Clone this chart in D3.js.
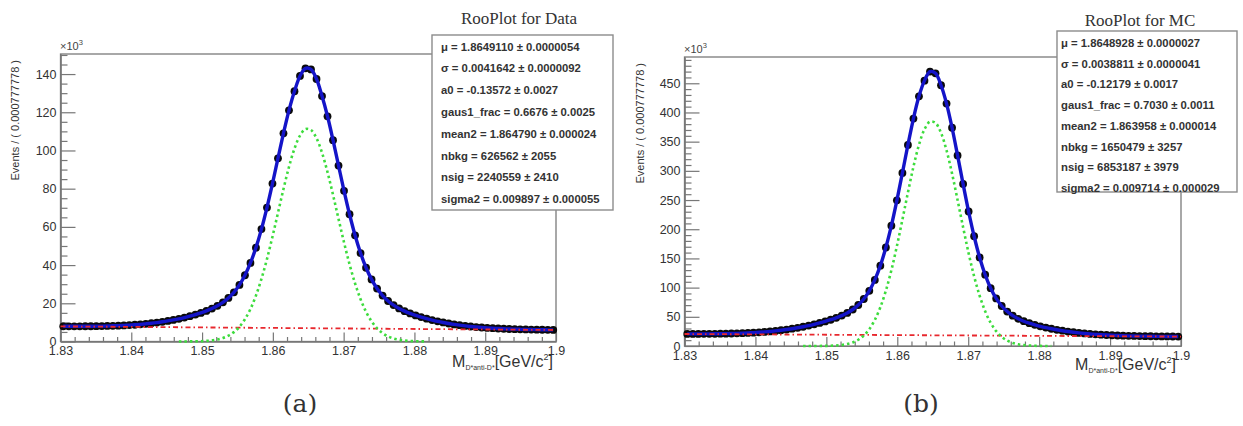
<!DOCTYPE html>
<html>
<head>
<meta charset="utf-8">
<script src="https://cdn.jsdelivr.net/npm/d3@7"></script>
<style>
    body { margin: 0; background: #fff; }
    svg { display: block; font-family: "Liberation Sans", Arial, sans-serif; }
</style>
</head>
<body>
<svg id="chart" width="1243" height="426"></svg>
<script>
// histogram binning: 90 bins of 0.000777778 GeV between 1.83 and 1.9
var massMin = 1.83, massMax = 1.9, binWidth = 0.000777778;

var xTicks = [1.83, 1.84, 1.85, 1.86, 1.87, 1.88, 1.89, 1.9];
var xTickLabels = ["1.83", "1.84", "1.85", "1.86", "1.87", "1.88", "1.89", "1.9"];
var yTicksData = [0, 20, 40, 60, 80, 100, 120, 140];
var yTicksMC = [0, 50, 100, 150, 200, 250, 300, 350, 400, 450];

// events per bin, x10^3 (data sample)
var eventsData = [
    7.95, 7.95, 7.95, 7.96, 7.97, 7.99, 8.03, 8.07, 8.13, 8.21,
    8.31, 8.44, 8.59, 8.77, 8.99, 9.25, 9.55, 9.90, 10.31, 10.77,
    11.29, 11.87, 12.53, 13.26, 14.07, 14.98, 16.02, 17.24, 18.70, 20.50,
    22.79, 25.74, 29.63, 34.68, 41.11, 49.14, 58.84, 70.13, 82.65, 95.87,
    108.98, 121.0, 131.0, 139.0, 143.0, 142.4, 137.4, 128.5, 117.9, 105.4,
    92.1, 78.9, 66.6, 55.6, 46.3, 38.6, 32.5, 27.7, 24.05, 21.2,
    19.05, 17.3, 15.9, 14.7, 13.67, 12.76, 11.94, 11.21, 10.55, 9.96,
    9.43, 8.96, 8.54, 8.17, 7.85, 7.57, 7.33, 7.13, 6.95, 6.80,
    6.67, 6.55, 6.46, 6.38, 6.31, 6.25, 6.20, 6.15, 6.11, 6.08
];
// narrow gaussian component (green), x10^3
var signalData = [
    0, 0, 0, 0, 0, 0, 0, 0, 0, 0,
    0, 0, 0, 0, 0, 0, 0, 0, 0, 0,
    0.00, 0.01, 0.02, 0.04, 0.08, 0.16, 0.31, 0.57, 1.03, 1.80,
    3.03, 4.91, 7.69, 11.66, 17.03, 24.03, 32.76, 43.14, 54.84, 67.33,
    79.82, 91.36, 101.0, 107.8, 111.2, 110.7, 106.4, 98.84, 88.64, 76.76,
    64.19, 51.85, 40.44, 30.45, 22.16, 15.56, 10.56, 6.91, 4.37, 2.67,
    1.58, 0.90, 0.50, 0.26, 0.14, 0.07, 0.03, 0, 0, 0,
    0, 0, 0, 0, 0, 0, 0, 0, 0, 0,
    0, 0, 0, 0, 0, 0, 0, 0, 0, 0
];
// background at 1.83 and at 1.9, x10^3
var bkgData = [7.91, 6.02];

// events per bin, x10^3 (MC sample)
var eventsMC = [
    20.72, 20.72, 20.73, 20.77, 20.83, 20.91, 21.03, 21.19, 21.39, 21.65,
    21.97, 22.36, 22.85, 23.43, 24.11, 24.92, 25.87, 26.96, 28.21, 29.62,
    31.21, 32.98, 34.95, 37.12, 39.50, 42.11, 45.00, 48.27, 52.07, 56.68,
    62.51, 70.19, 80.50, 94.46, 113.2, 137.6, 168.7, 206.1, 249.5, 296.5,
    344.4, 389.6, 427.6, 454.5, 470.0, 467.0, 446.6, 415.2, 373.8, 326.5,
    277.5, 230.4, 188.0, 151.7, 122.1, 99.0, 81.5, 68.5, 58.97, 51.92,
    46.61, 42.45, 39.06, 36.19, 33.70, 31.49, 29.52, 27.75, 26.17, 24.77,
    23.54, 22.45, 21.50, 20.67, 19.96, 19.35, 18.83, 18.38, 18.01, 17.69,
    17.42, 17.18, 16.99, 16.83, 16.69, 16.57, 16.46, 16.37, 16.28, 16.21
];
var signalMC = [
    0, 0, 0, 0, 0, 0, 0, 0, 0, 0,
    0, 0, 0, 0, 0, 0, 0, 0, 0, 0,
    0.00, 0.01, 0.02, 0.04, 0.09, 0.21, 0.44, 0.91, 1.78, 3.38,
    6.13, 10.70, 17.92, 28.85, 44.65, 66.29, 94.72, 129.8, 171.1, 216.4,
    262.9, 307.0, 344.4, 371.1, 384.2, 382.0, 365.0, 335.0, 295.3, 250.1,
    203.5, 159.0, 119.4, 86.09, 59.63, 39.68, 25.38, 15.59, 9.20, 5.21,
    2.84, 1.48, 0.75, 0.36, 0.17, 0.07, 0.03, 0, 0, 0,
    0, 0, 0, 0, 0, 0, 0, 0, 0, 0,
    0, 0, 0, 0, 0, 0, 0, 0, 0, 0
];
var bkgMC = [20.57, 16.11];

var statsData = [
    "μ = 1.8649110 ± 0.0000054",
    "σ = 0.0041642 ± 0.0000092",
    "a0 = -0.13572 ± 0.0027",
    "gaus1_frac = 0.6676 ± 0.0025",
    "mean2 = 1.864790 ± 0.000024",
    "nbkg = 626562 ± 2055",
    "nsig = 2240559 ± 2410",
    "sigma2 = 0.009897 ± 0.000055"
];
var statsMC = [
    "μ = 1.8648928 ± 0.0000027",
    "σ = 0.0038811 ± 0.0000041",
    "a0 = -0.12179 ± 0.0017",
    "gaus1_frac = 0.7030 ± 0.0011",
    "mean2 = 1.863958 ± 0.000014",
    "nbkg = 1650479 ± 3257",
    "nsig = 6853187 ± 3979",
    "sigma2 = 0.009714 ± 0.000029"
];

// layout of the two pads
var panels = [
    {
        title: "RooPlot for Data", caption: "(a)",
        events: eventsData, signal: signalData, bkg: bkgData, stats: statsData,
        yTicks: yTicksData, yMax: 150.5, yMinor: 5,
        frame: { left: 60.5, right: 556, top: 54, bottom: 341.5 },
        box: { x: 432, y: 35, w: 181, h: 175, textX: 441, row0: 46.5, rowStep: 21.8 },
        titlePos: [519, 24], expPos: [60, 50], yTitlePos: [19, 60], xTitlePos: [553, 367], captionPos: [300, 412]
    },
    {
        title: "RooPlot for MC", caption: "(b)",
        events: eventsMC, signal: signalMC, bkg: bkgMC, stats: statsMC,
        yTicks: yTicksMC, yMax: 495, yMinor: 10,
        frame: { left: 684.5, right: 1181, top: 57, bottom: 346 },
        box: { x: 1057, y: 31, w: 180, h: 161, textX: 1061, row0: 43, rowStep: 20.7 },
        titlePos: [1140, 26], expPos: [684, 53], yTitlePos: [644, 63], xTitlePos: [1176, 370], captionPos: [921, 412]
    }
];

var chart = {
    draw: function(svg, p) {
        var f = p.frame;
        var x = d3.scaleLinear().domain([massMin, massMax]).range([f.left, f.right]);
        var y = d3.scaleLinear().domain([0, p.yMax]).range([f.bottom, f.top]);
        var centers = p.events.map((e, i) => massMin + (i + 0.5) * binWidth);
        var g = svg.append("g");

        //frame
        g.append("rect")
            .attr("x", f.left).attr("y", f.top)
            .attr("width", f.right - f.left).attr("height", f.bottom - f.top)
            .attr("fill", "none").attr("stroke", "#7a7a7a").attr("stroke-width", 1.3);

        //minor ticks first, majors on top
        var xMinor = d3.range(0, 36).filter(i => i % 5 != 0).map(i => massMin + i * 0.002);
        g.append("g").attr("class", "axis")
            .attr("transform", `translate(0, ${f.bottom})`)
            .call(d3.axisBottom(x).tickValues(xMinor).tickSizeInner(-4.5).tickSizeOuter(0).tickFormat(""));
        g.append("g").attr("class", "axis")
            .attr("transform", `translate(0, ${f.bottom})`)
            .call(d3.axisBottom(x).tickValues(xTicks).tickSizeInner(-9).tickSizeOuter(0).tickPadding(5)
                .tickFormat((d, i) => xTickLabels[i]));

        var yMinor = d3.range(0, p.yMax, p.yMinor).filter(v => p.yTicks.indexOf(v) < 0);
        g.append("g").attr("class", "axis")
            .attr("transform", `translate(${f.left}, 0)`)
            .call(d3.axisLeft(y).tickValues(yMinor).tickSizeInner(-7).tickSizeOuter(0).tickFormat(""));
        g.append("g").attr("class", "axis")
            .attr("transform", `translate(${f.left}, 0)`)
            .call(d3.axisLeft(y).tickValues(p.yTicks).tickSizeInner(-15).tickSizeOuter(0).tickPadding(4));

        g.selectAll(".axis path, .axis line").attr("stroke", "#777").attr("stroke-width", 1.2);
        g.selectAll(".axis text").attr("fill", "#333").attr("font-size", "12.5px")
            .attr("font-family", "'Liberation Sans', Arial, sans-serif");

        //data points
        g.append("g").selectAll("circle")
            .data(p.events)
            .enter()
            .append("circle")
            .attr("cx", (d, i) => x(centers[i]))
            .attr("cy", d => y(d))
            .attr("r", 3.9)
            .attr("fill", "#0a0a0a");

        //total fit
        var line = d3.line().curve(d3.curveCatmullRom);
        g.append("path")
            .attr("d", line(p.events.map((d, i) => [x(centers[i]), y(d)])))
            .attr("fill", "none").attr("stroke", "#1414c8").attr("stroke-width", 3.4);

        //background component
        g.append("path")
            .attr("d", d3.line()([[x(massMin), y(p.bkg[0])], [x(massMax), y(p.bkg[1])]]))
            .attr("fill", "none").attr("stroke", "#e8282e").attr("stroke-width", 1.8)
            .attr("stroke-dasharray", "5,3,1.5,3");

        //narrow gaussian component, only where it rises off the axis
        var sigLine = d3.line().curve(d3.curveCatmullRom).defined(d => d[2] > 0);
        g.append("path")
            .attr("d", sigLine(p.signal.map((d, i) => [x(centers[i]), y(d), d])))
            .attr("fill", "none").attr("stroke", "#3cdc3c").attr("stroke-width", 2.6)
            .attr("stroke-dasharray", "2.5,3");

        //x10^3 exponent
        var exp = g.append("text")
            .attr("x", p.expPos[0]).attr("y", p.expPos[1])
            .attr("font-size", "11px").attr("fill", "#444");
        exp.append("tspan").text("×10");
        exp.append("tspan").attr("dy", -5).attr("font-size", "7.5px").text("3");

        //axis titles
        g.append("text")
            .attr("transform", `translate(${p.yTitlePos[0]}, ${p.yTitlePos[1]}) rotate(-90)`)
            .attr("text-anchor", "end")
            .attr("font-size", "11px").attr("fill", "#333")
            .text("Events / ( 0.000777778 )");

        var xt = g.append("text")
            .attr("x", p.xTitlePos[0]).attr("y", p.xTitlePos[1])
            .attr("text-anchor", "end")
            .attr("font-size", "16px").attr("fill", "#333");
        xt.append("tspan").text("M");
        xt.append("tspan").attr("dy", 3).attr("font-size", "7px").text("D*anti-D*");
        xt.append("tspan").attr("dy", -3).text("[GeV/c");
        xt.append("tspan").attr("dy", -7).attr("font-size", "9px").text("2");
        xt.append("tspan").attr("dy", 7).text("]");

        //stats box
        var b = p.box;
        g.append("rect")
            .attr("x", b.x).attr("y", b.y).attr("width", b.w).attr("height", b.h)
            .attr("fill", "#fff").attr("stroke", "#8c8c8c").attr("stroke-width", 1.4);
        g.append("g").selectAll("text")
            .data(p.stats)
            .enter()
            .append("text")
            .attr("x", b.textX)
            .attr("y", (d, i) => b.row0 + i * b.rowStep + 4)
            .attr("font-size", "11.3px").attr("font-weight", "bold").attr("fill", "#333")
            .text(d => d);

        //titles
        g.append("text")
            .attr("x", p.titlePos[0]).attr("y", p.titlePos[1])
            .attr("text-anchor", "middle")
            .attr("font-family", "'Liberation Serif', 'Times New Roman', serif")
            .attr("font-size", "17px").attr("fill", "#333")
            .text(p.title);

        g.append("text")
            .attr("x", p.captionPos[0]).attr("y", p.captionPos[1])
            .attr("text-anchor", "middle")
            .attr("font-family", "'DejaVu Serif', 'Liberation Serif', serif")
            .attr("font-size", "25px").attr("fill", "#333")
            .text(p.caption);
    }
}

var svg = d3.select("#chart");
panels.forEach(p => chart.draw(svg, p));
</script>
</body>
</html>
